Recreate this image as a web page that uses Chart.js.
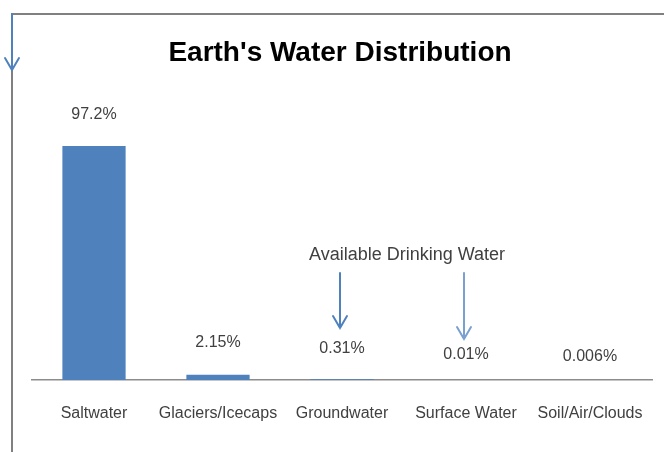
<!DOCTYPE html>
<html>
<head>
<meta charset="utf-8">
<script src="https://cdn.jsdelivr.net/npm/chart.js@4/dist/chart.umd.min.js"></script>
<style>
  html, body { margin: 0; padding: 0; background: #ffffff; }
  #wrap { width: 664px; height: 452px; position: relative; }
</style>
</head>
<body>
<div id="wrap"><canvas id="chart" width="664" height="452"></canvas></div>
<script>
// Share of Earth's water by reservoir (percent)
const categories = ['Saltwater', 'Glaciers/Icecaps', 'Groundwater', 'Surface Water', 'Soil/Air/Clouds'];
const shares = [97.2, 2.15, 0.31, 0.01, 0.006];
const shareLabels = ['97.2%', '2.15%', '0.31%', '0.01%', '0.006%'];

const TITLE = "Earth's Water Distribution";
const NOTE = 'Available Drinking Water';
const BLUE = '#4f81bd';
const TEXT = '#404040';
const FONT = '"Liberation Sans", Arial, sans-serif';

// Vertical gap between each bar top and its value label
const labelLift = [31, 32, 31, 25, 23];

function arrowDown(ctx, x, y0, y1, color) {
  ctx.save();
  ctx.strokeStyle = color;
  ctx.lineWidth = 2;
  ctx.lineCap = 'round';
  ctx.beginPath();
  ctx.moveTo(x, y0);
  ctx.lineTo(x, y1);
  ctx.moveTo(x - 7, y1 - 12);
  ctx.lineTo(x, y1);
  ctx.lineTo(x + 7, y1 - 12);
  ctx.stroke();
  ctx.restore();
}

const decorations = {
  id: 'decorations',
  afterDraw(chart) {
    const ctx = chart.ctx;
    const xs = chart.scales.x;
    const meta = chart.getDatasetMeta(0);

    // frame lines
    ctx.save();
    ctx.strokeStyle = '#808080';
    ctx.lineWidth = 2;
    ctx.beginPath();
    ctx.moveTo(12, 452);
    ctx.lineTo(12, 14);
    ctx.lineTo(664, 14);
    ctx.stroke();
    ctx.restore();
    arrowDown(ctx, 12, 14, 70, BLUE);

    // title
    ctx.save();
    ctx.fillStyle = '#000000';
    ctx.font = 'bold 28px ' + FONT;
    ctx.textAlign = 'center';
    ctx.textBaseline = 'middle';
    ctx.fillText(TITLE, 340, 53);
    ctx.restore();

    // value labels
    ctx.save();
    ctx.fillStyle = TEXT;
    ctx.font = '16px ' + FONT;
    ctx.textAlign = 'center';
    ctx.textBaseline = 'middle';
    meta.data.forEach((bar, i) => {
      ctx.fillText(shareLabels[i], bar.x, bar.y - labelLift[i]);
    });
    ctx.restore();

    // drinking water note with arrows
    ctx.save();
    ctx.fillStyle = TEXT;
    ctx.font = '18px ' + FONT;
    ctx.textAlign = 'center';
    ctx.textBaseline = 'middle';
    ctx.fillText(NOTE, 407, 255);
    ctx.restore();
    arrowDown(ctx, xs.getPixelForValue(2) - 2, 273, 328, BLUE);
    arrowDown(ctx, xs.getPixelForValue(3) - 2, 273, 339, '#7aa0cf');
  }
};

new Chart(document.getElementById('chart'), {
  type: 'bar',
  data: {
    labels: categories,
    datasets: [{
      data: shares,
      backgroundColor: BLUE,
      borderWidth: 0,
      categoryPercentage: 1,
      barPercentage: 0.51
    }]
  },
  options: {
    responsive: false,
    animation: false,
    devicePixelRatio: 1,
    layout: { autoPadding: false, padding: { left: 32, right: 12, top: 91, bottom: 0 } },
    plugins: {
      legend: { display: false },
      title: { display: false },
      tooltip: { enabled: false }
    },
    scales: {
      x: {
        grid: { display: false, drawTicks: false },
        border: { display: true, color: '#8c8c8c', width: 1.5 },
        ticks: {
          color: TEXT,
          font: { family: FONT, size: 16 },
          padding: 24,
          maxRotation: 0,
          autoSkip: false
        },
        afterFit(scale) {
          scale.height = 72;
          scale.paddingLeft = 0;
          scale.paddingRight = 0;
        }
      },
      y: {
        display: false,
        min: 0,
        max: 120
      }
    }
  },
  plugins: [decorations]
});
</script>
</body>
</html>
